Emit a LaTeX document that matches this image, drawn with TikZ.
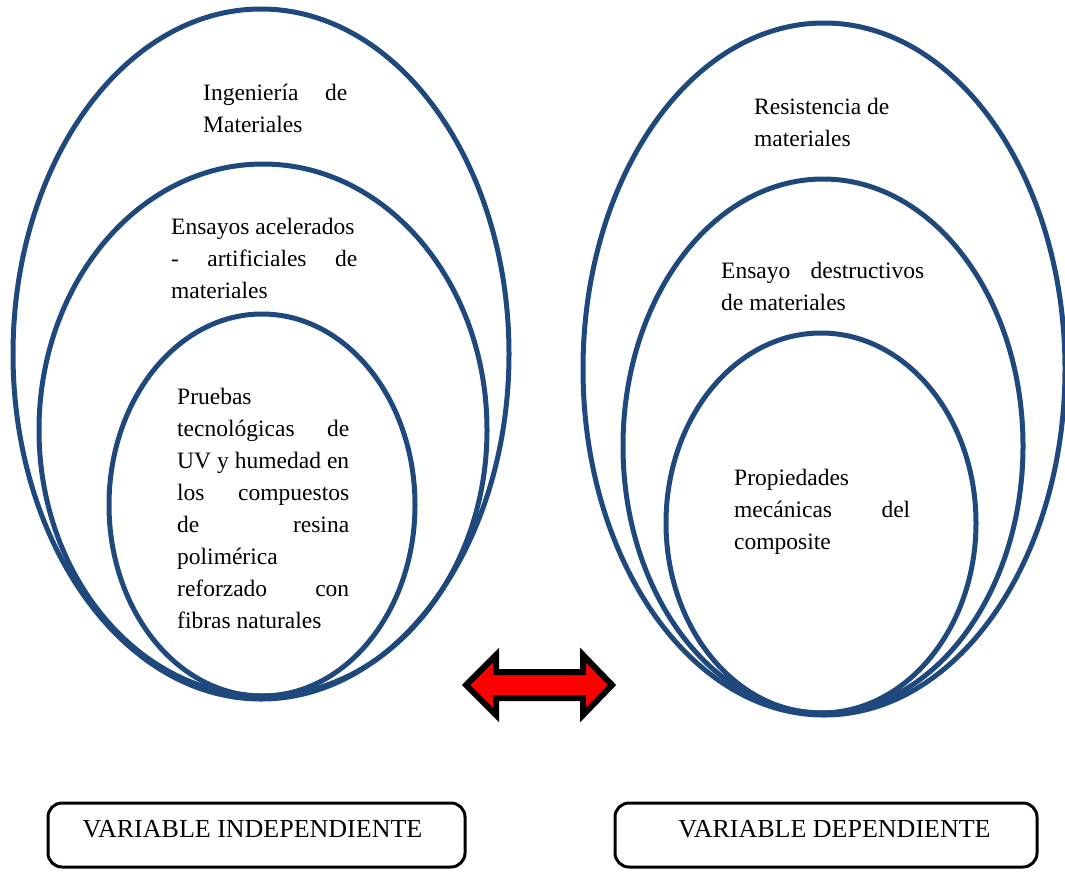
\documentclass[tikz,border=0pt]{standalone}
\usepackage{fontspec}
\setmainfont{Liberation Serif}
\definecolor{ringblue}{HTML}{1F497D}
\definecolor{arrowred}{HTML}{FF0000}
\newcommand{\spreadline}[1]{\makebox[\linewidth][s]{#1}}
\tikzset{
  ringline/.style={draw=ringblue, line width=5pt},
  txt/.style={anchor=base west, inner sep=0pt, font=\fontsize{23.5}{32}\selectfont},
  varbox/.style={draw=black, line width=3pt, rounded corners=14pt,
    minimum height=64pt, inner sep=0pt},
  boxtext/.style={inner sep=0pt, font=\fontsize{26}{30}\selectfont},
  bigarrow/.style={draw=black, fill=arrowred, line width=6pt, line join=miter}
}
\begin{document}
\begin{tikzpicture}[x=1pt, y=-1pt]
  \useasboundingbox (0,0) rectangle (1065,871);

  % independent variable: nested rings
  \draw[ringline] (261,354) ellipse [x radius=248, y radius=345];
  \draw[ringline] (263,430) ellipse [x radius=224, y radius=266];
  \draw[ringline] (262,505) ellipse [x radius=153, y radius=191];

  % dependent variable: nested rings
  \draw[ringline] (824,369) ellipse [x radius=241, y radius=346];
  \draw[ringline] (823,446) ellipse [x radius=200, y radius=267];
  \draw[ringline] (821,523) ellipse [x radius=155, y radius=190];

  % ring labels, left
  \node[txt] (ingmat) at (203,100)
    {\parbox[t]{144pt}{\spreadline{Ingeniería de}\\Materiales}};
  \node[txt] (ensacel) at (171,234)
    {\parbox[t]{186pt}{Ensayos acelerados\\\spreadline{- artificiales de}\\materiales}};
  \node[txt] (pruebas) at (177,404)
    {\parbox[t]{172pt}{Pruebas\\\spreadline{tecnológicas de}\\\spreadline{UV y humedad en}\\\spreadline{los compuestos}\\\spreadline{de resina}\\polimérica\\\spreadline{reforzado con}\\fibras naturales}};

  % ring labels, right
  \node[txt] (resmat) at (754,114)
    {\parbox[t]{160pt}{Resistencia de\\materiales}};
  \node[txt] (ensdes) at (721,278)
    {\parbox[t]{203pt}{\spreadline{Ensayo destructivos}\\de materiales}};
  \node[txt] (propmec) at (734,485)
    {\parbox[t]{176pt}{Propiedades\\\spreadline{mecánicas del}\\composite}};

  % two-headed arrow between the variables
  \draw[bigarrow] (466,685) -- (496,655) -- (496,672) -- (583,672) -- (583,655)
    -- (612,685) -- (583,715) -- (583,698) -- (496,698) -- (496,715) -- cycle;

  % variable boxes
  \node[varbox, minimum width=417pt] (vind) at (256.5,835) {};
  \node[boxtext] (vindtxt) at (252.5,829) {VARIABLE INDEPENDIENTE};
  \node[varbox, minimum width=422pt] (vdep) at (826,835) {};
  \node[boxtext] (vdeptxt) at (834.5,829) {VARIABLE DEPENDIENTE};
\end{tikzpicture}
\end{document}
